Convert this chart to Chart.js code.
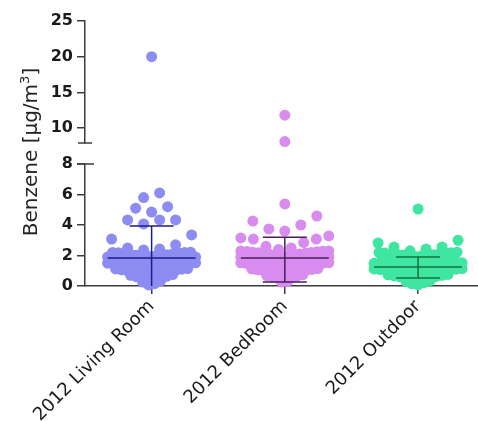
<!DOCTYPE html>
<html>
<head>
<meta charset="utf-8">
<script src="https://cdn.jsdelivr.net/npm/chart.js@4.4.0/dist/chart.umd.min.js"></script>
<style>
html, body { margin: 0; padding: 0; background: #fff; }
#wrap { position: relative; width: 478px; height: 421px; overflow: hidden; }
canvas { position: absolute; left: 0; }
#upper { top: 0; }
#lower { top: 144px; }
#ytitle {
    position: absolute; left: -70px; top: 140px; width: 200px; height: 24px;
    line-height: 24px; text-align: center; transform: rotate(-90deg);
    font: 20px "DejaVu Sans", sans-serif; color: #222; white-space: nowrap;
}
#ytitle sup { font-size: 13px; line-height: 0; }
</style>
</head>
<body>
<div id="wrap">
    <canvas id="upper" width="478" height="160"></canvas>
    <canvas id="lower" width="478" height="277"></canvas>
    <div id="ytitle">Benzene [µg/m<sup>3</sup>]</div>
</div>
<script>
// values (µg/m3), dense part estimated
const categories = ['2012 Living Room', '2012 BedRoom', '2012 Outdoor'];

const livingRoom = [20, 6.1, 5.8, 5.2, 5.1, 4.85, 4.33, 4.33, 4.33, 4.07, 3.35, 3.08, 2.7, 2.49, 2.42, 2.36,
    1.93, 1.95, 1.98, 2.0, 2.02, 2.05, 2.08, 2.1, 2.12, 2.15, 2.18, 2.2, 2.2, 2.22,
    1.55, 1.58, 1.6, 1.62, 1.65, 1.68, 1.7, 1.72, 1.75, 1.78, 1.8, 1.82, 1.85, 1.88, 1.9, 1.9,
    1.16, 1.18, 1.2, 1.22, 1.25, 1.28, 1.3, 1.3, 1.33, 1.36, 1.38, 1.4, 1.43, 1.46, 1.5, 1.52,
    0.78, 0.8, 0.85, 0.88, 0.9, 0.95, 0.98, 1.0, 1.03, 1.06, 1.1, 1.12, 1.14,
    0.4, 0.45, 0.5, 0.55, 0.6, 0.64, 0.7, 0.75,
    0.07, 0.15, 0.26, 0.34];

const bedRoom = [11.8, 8.1, 5.38, 4.59, 4.26, 4.0, 3.74, 3.6,
    3.28, 3.15, 3.08, 3.08, 2.85, 2.6, 2.5, 2.4,
    1.93, 1.96, 2.0, 2.03, 2.06, 2.1, 2.12, 2.15, 2.18, 2.2, 2.22, 2.25, 2.27, 2.28, 2.29, 2.29,
    1.55, 1.58, 1.6, 1.64, 1.66, 1.7, 1.72, 1.75, 1.78, 1.8, 1.83, 1.85, 1.87, 1.9, 1.9, 1.91,
    1.16, 1.19, 1.22, 1.25, 1.28, 1.3, 1.33, 1.36, 1.38, 1.4, 1.42, 1.45, 1.47, 1.5, 1.52, 1.53,
    0.78, 0.82, 0.86, 0.9, 0.93, 0.96, 1.0, 1.03, 1.06, 1.09, 1.12, 1.14,
    0.4, 0.46, 0.52, 0.58, 0.63, 0.68, 0.74,
    0.26, 0.32];

const outdoor = [5.05, 3.0, 2.82, 2.56, 2.55, 2.43, 2.31,
    1.94, 1.97, 2.0, 2.0, 2.03, 2.05, 2.06, 2.1, 2.12, 2.14, 2.16, 2.18, 2.2, 2.22,
    1.55, 1.58, 1.6, 1.63, 1.66, 1.7, 1.73, 1.76, 1.8, 1.83, 1.86, 1.9, 1.91,
    1.16, 1.18, 1.2, 1.22, 1.24, 1.25, 1.27, 1.3, 1.32, 1.35, 1.38, 1.4, 1.43, 1.46, 1.49, 1.52,
    0.78, 0.8, 0.83, 0.86, 0.88, 0.9, 0.93, 0.96, 0.98, 1.0, 1.03, 1.06, 1.08, 1.1, 1.12, 1.14,
    0.4, 0.44, 0.48, 0.52, 0.56, 0.6, 0.63, 0.66, 0.7, 0.73, 0.76,
    0.07, 0.14, 0.22, 0.3, 0.36];

const means = [1.84, 1.84, 1.25];
const errLow = [-0.25, 0.26, 0.52];
const errHigh = [3.93, 3.2, 1.9];

const lowerTicks = [0, 2, 4, 6, 8];
const upperTicks = [10, 15, 20, 25];

const groups = [livingRoom, bedRoom, outdoor];
const dotColors = ['#8c8cf3', '#d98cf0', '#3fe6a2'];
const lineColors = ['#1c1c8c', '#4a1f57', '#17703c'];

// layout
const AXIS_W = 85;
const X_MIN = -0.5, X_MAX = 2.45;
const LOW_MAX = 8, UP_MIN = 7.9, UP_MAX = 25;
const AXIS_COLOR = '#3c3c3c';
const X_PX = (478 - AXIS_W) / (X_MAX - X_MIN);
const BIN = 1.15, ROWS = 3, SPARSE_MAX = 10;
const STEP = 16, DENSE_STEP = 6, HALF = 44;

function groupBy(values, key) {
    const out = {};
    values.forEach(v => { const k = key(v); (out[k] = out[k] || []).push(v); });
    return Object.values(out);
}

// one row: sorted values fanned out from the centre, larger values outward
function fan(b, step0, center, pts) {
    b.sort((a, c) => a - c);
    const n = b.length;
    const step = n > 1 ? Math.min(step0, 2 * HALF / (n - 1)) : 0;
    const slots = b.map((_, j) => (j - (n - 1) / 2) * step)
        .sort((a, c) => Math.abs(a) - Math.abs(c));
    b.forEach((v, j) => pts.push({ x: center + slots[j] / X_PX, y: v }));
}

// prism-like scatter: sparse bins spread wide, dense bins split into thin packed rows
function swarm(values, center) {
    const pts = [];
    groupBy(values, v => Math.floor(v / BIN + 1e-9)).forEach(b => {
        if (b.length <= SPARSE_MAX) {
            fan(b, STEP, center, pts);
        } else {
            groupBy(b, v => Math.floor(v / (BIN / ROWS) + 1e-9))
                .forEach(r => fan(r, DENSE_STEP, center, pts));
        }
    });
    return pts;
}

function statLine(i) {
    const gap = { x: i, y: null };
    const m = 0.33, c = 0.165;
    return [
        { x: i - m, y: means[i] }, { x: i + m, y: means[i] }, gap,
        { x: i, y: errLow[i] }, { x: i, y: errHigh[i] }, gap,
        { x: i - c, y: errHigh[i] }, { x: i + c, y: errHigh[i] }, gap,
        { x: i - c, y: errLow[i] }, { x: i + c, y: errLow[i] }
    ];
}

const breakCap = {
    id: 'breakCap',
    afterDraw(chart, args, opts) {
        const { ctx, chartArea } = chart;
        const y = opts.edge === 'top' ? chartArea.top : chartArea.bottom;
        ctx.save();
        ctx.strokeStyle = AXIS_COLOR;
        ctx.lineWidth = 1.5;
        ctx.beginPath();
        ctx.moveTo(chartArea.left - opts.l, y);
        ctx.lineTo(chartArea.left + opts.r, y);
        ctx.stroke();
        ctx.restore();
    }
};

function dotSets(filter) {
    return groups.map((g, i) => ({
        data: swarm(g.filter(filter), i),
        backgroundColor: dotColors[i],
        borderWidth: 0,
        pointRadius: 5.5,
        pointHoverRadius: 5.5,
        clip: false
    }));
}

function yAxis(min, max, ticks) {
    return {
        type: 'linear',
        min: min,
        max: max,
        afterBuildTicks: s => { s.ticks = ticks.map(v => ({ value: v })); },
        afterFit: s => { s.width = AXIS_W; },
        border: { display: true, color: AXIS_COLOR, width: 1.5 },
        grid: { drawOnChartArea: false, drawTicks: true, tickLength: 8, color: AXIS_COLOR, lineWidth: 1.5 },
        ticks: { padding: 4, color: '#1a1a1a', font: { family: 'DejaVu Sans', size: 16, weight: 'bold' } }
    };
}

Chart.defaults.font.family = 'DejaVu Sans';

new Chart(document.getElementById('upper'), {
    type: 'scatter',
    data: { datasets: dotSets(v => v > LOW_MAX) },
    options: {
        responsive: false,
        animation: false,
        devicePixelRatio: 1,
        layout: { autoPadding: false, padding: { top: 21, bottom: 17, left: 0, right: 0 } },
        plugins: { legend: { display: false }, tooltip: { enabled: false }, breakCap: { edge: 'bottom', l: 7, r: 7 } },
        scales: {
            x: { type: 'linear', min: X_MIN, max: X_MAX, display: false },
            y: yAxis(UP_MIN, UP_MAX, upperTicks)
        }
    },
    plugins: [breakCap]
});

const statSets = groups.map((g, i) => ({
    data: statLine(i),
    showLine: true,
    spanGaps: false,
    borderColor: lineColors[i],
    borderWidth: 1.5,
    pointRadius: 0,
    pointHoverRadius: 0
}));

new Chart(document.getElementById('lower'), {
    type: 'scatter',
    data: { datasets: statSets.concat(dotSets(v => v <= LOW_MAX)) },
    options: {
        responsive: false,
        animation: false,
        devicePixelRatio: 1,
        layout: { autoPadding: false, padding: { top: 20, bottom: 0, left: 0, right: 0 } },
        plugins: { legend: { display: false }, tooltip: { enabled: false }, breakCap: { edge: 'top', l: 8, r: 9 } },
        scales: {
            x: {
                type: 'linear',
                min: X_MIN,
                max: X_MAX,
                afterBuildTicks: s => { s.ticks = categories.map((c, i) => ({ value: i })); },
                afterFit: s => { s.height = 135; s.paddingLeft = 0; s.paddingRight = 0; },
                border: { display: true, color: AXIS_COLOR, width: 1.5 },
                grid: { drawOnChartArea: false, drawTicks: true, tickLength: 8, color: AXIS_COLOR, lineWidth: 1.5 },
                ticks: {
                    autoSkip: false,
                    minRotation: 45,
                    maxRotation: 45,
                    padding: 2,
                    color: '#1a1a1a',
                    font: { family: 'DejaVu Sans', size: 18 },
                    callback: v => categories[v]
                }
            },
            y: yAxis(0, LOW_MAX, lowerTicks)
        }
    },
    plugins: [breakCap]
});
</script>
</body>
</html>
